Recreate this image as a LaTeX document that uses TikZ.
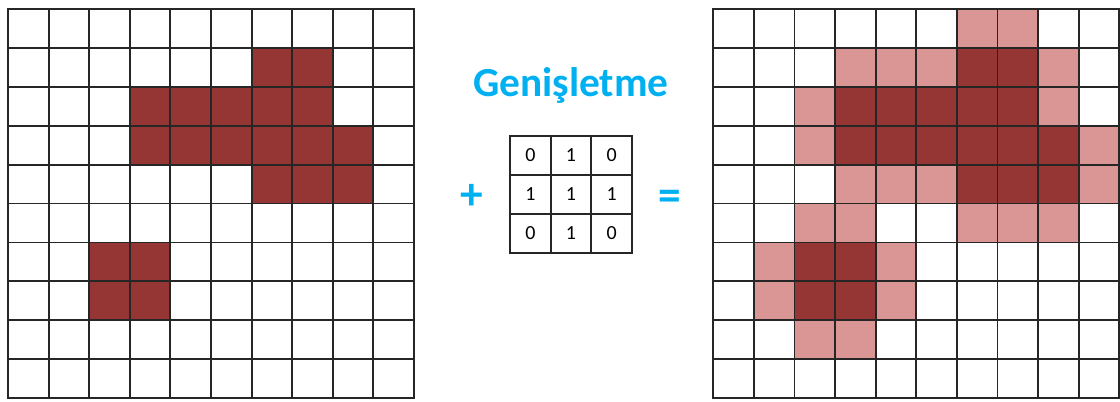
\documentclass[tikz,border=0pt]{standalone}
\usepackage{fontspec}
\setmainfont{Carlito}
\definecolor{darkcell}{RGB}{150,54,52}
\definecolor{lightcell}{RGB}{218,150,148}
\definecolor{titleblue}{RGB}{0,176,240}
\begin{document}
\begin{tikzpicture}[x=0.75pt,y=-0.75pt,
  gridline/.style={draw=black!85,line width=1.4pt,line cap=rect},
  signtext/.style={titleblue,font=\fontsize{34}{40}\selectfont\bfseries},
  digit/.style={font=\fontsize{15}{18}\selectfont}]
  \clip (0,0) rectangle (1120,402);
  % input image
  \begin{scope}[shift={(8,9)},x=30.45pt,y=-29.18pt]
    \foreach \c/\r in {6/1,7/1,3/2,4/2,5/2,6/2,7/2,3/3,4/3,5/3,6/3,7/3,8/3,6/4,7/4,8/4,2/6,3/6,2/7,3/7}
      \fill[darkcell] (\c,\r) rectangle ++(1,1);
    \foreach \i in {0,...,10} {
      \draw[gridline] (\i,0) -- (\i,10);
      \draw[gridline] (0,\i) -- (10,\i);
    }
  \end{scope}
  % kernel
  \begin{scope}[shift={(510,136)},x=30.5pt,y=-29.2pt]
    \foreach \i in {0,...,3} {
      \draw[gridline] (\i,0) -- (\i,3);
      \draw[gridline] (0,\i) -- (3,\i);
    }
    \foreach \c/\r/\v in {0/0/0,1/0/1,2/0/0,0/1/1,1/1/1,2/1/1,0/2/0,1/2/1,2/2/0}
      \node[digit] (k\r\c) at (\c+0.5,\r+0.5) {\v};
  \end{scope}
  % dilated image
  \begin{scope}[shift={(713.3,9)},x=30.45pt,y=-29.18pt]
    \foreach \c/\r in {6/0,7/0,3/1,4/1,5/1,8/1,2/2,8/2,2/3,9/3,3/4,4/4,5/4,9/4,2/5,3/5,6/5,7/5,8/5,1/6,4/6,1/7,4/7,2/8,3/8}
      \fill[lightcell] (\c,\r) rectangle ++(1,1);
    \foreach \c/\r in {6/1,7/1,3/2,4/2,5/2,6/2,7/2,3/3,4/3,5/3,6/3,7/3,8/3,6/4,7/4,8/4,2/6,3/6,2/7,3/7}
      \fill[darkcell] (\c,\r) rectangle ++(1,1);
    \foreach \i in {0,...,10} {
      \draw[gridline] (\i,0) -- (\i,10);
      \draw[gridline] (0,\i) -- (10,\i);
    }
  \end{scope}
  \node[titleblue,font=\fontsize{31}{37}\selectfont\bfseries,anchor=base] (title) at (571,97) {Genişletme};
  \node[signtext] (plus) at (472,197) {+};
  \node[signtext] (equals) at (670,200) {=};
\end{tikzpicture}
\end{document}
